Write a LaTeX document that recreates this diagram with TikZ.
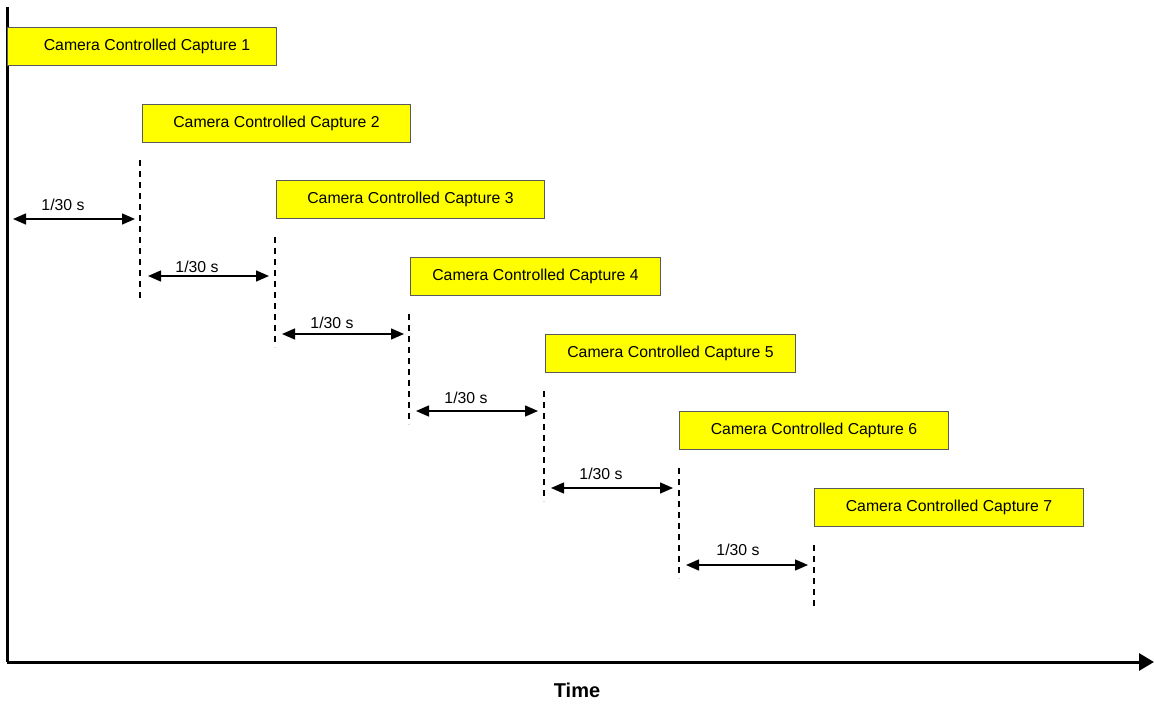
\documentclass[tikz,border=0pt]{standalone}
\usepackage{fontspec}
\setmainfont{Liberation Sans}
\usetikzlibrary{arrows.meta}
\definecolor{boxyellow}{RGB}{255,255,0}
\definecolor{boxborder}{RGB}{90,90,90}
\tikzset{
  capbox/.style={draw=boxborder, line width=1pt, fill=boxyellow, inner sep=0pt,
    minimum height=38pt, anchor=north west, font=\fontsize{15.8}{18}\selectfont},
  tick/.style={dashed, dash pattern=on 6pt off 5pt, line width=1.4pt},
  interval/.style={{Triangle[length=13pt,width=11pt]}-{Triangle[length=13pt,width=11pt]}, line width=1.4pt},
  lbl/.style={font=\fontsize{15.8}{18}\selectfont, inner sep=0pt},
  axis/.style={line width=3pt}
}
\begin{document}
\begin{tikzpicture}[x=1pt,y=-1pt]
\useasboundingbox (0,0) rectangle (1154,704);
% axes
\coordinate (top) at (7,7);
\coordinate (origin) at (7,662);
\coordinate (tend) at (1154,662);
\draw[axis] (top) -- (origin);
\draw[axis, -{Triangle[length=15pt,width=17pt]}] (origin) -- (tend);
\node[font=\bfseries\fontsize{20}{24}\selectfont] (time) at (577,690) {Time};
% capture boxes
\node[capbox, minimum width=269pt] (c1) at (7,27) {\hspace*{10pt}Camera Controlled Capture 1};
\node[capbox, minimum width=268pt] (c2) at (142,104) {Camera Controlled Capture 2};
\node[capbox, minimum width=268pt] (c3) at (276,180) {Camera Controlled Capture 3};
\node[capbox, minimum width=250pt] (c4) at (410,257) {Camera Controlled Capture 4};
\node[capbox, minimum width=250pt] (c5) at (545,334) {Camera Controlled Capture 5};
\node[capbox, minimum width=269pt] (c6) at (679,411) {Camera Controlled Capture 6};
\node[capbox, minimum width=269pt] (c7) at (814,488) {Camera Controlled Capture 7};
% dashed ticks
\coordinate (d1t) at (140,160); \coordinate (d1b) at (140,300);
\coordinate (d2t) at (275,237); \coordinate (d2b) at (275,347);
\coordinate (d3t) at (409,314); \coordinate (d3b) at (409,424);
\coordinate (d4t) at (544,391); \coordinate (d4b) at (544,501);
\coordinate (d5t) at (679,468); \coordinate (d5b) at (679,578);
\coordinate (d6t) at (814,545); \coordinate (d6b) at (814,606);
\foreach \i in {1,...,6} \draw[tick] (d\i t) -- (d\i b);
% intervals
\coordinate (a1l) at (13,219);  \coordinate (a1r) at (135,219);
\coordinate (a2l) at (148,276); \coordinate (a2r) at (269,276);
\coordinate (a3l) at (282,334); \coordinate (a3r) at (404,334);
\coordinate (a4l) at (416,411); \coordinate (a4r) at (538,411);
\coordinate (a5l) at (551,488); \coordinate (a5r) at (673,488);
\coordinate (a6l) at (686,565); \coordinate (a6r) at (808,565);
\foreach \i in {1,...,6} \draw[interval] (a\i l) -- (a\i r);
\node[lbl] (l1) at (63,205) {1/30 s};
\node[lbl] (l2) at (197,267) {1/30 s};
\node[lbl] (l3) at (332,323) {1/30 s};
\node[lbl] (l4) at (466,398) {1/30 s};
\node[lbl] (l5) at (601,474) {1/30 s};
\node[lbl] (l6) at (738,550) {1/30 s};
\end{tikzpicture}
\end{document}
